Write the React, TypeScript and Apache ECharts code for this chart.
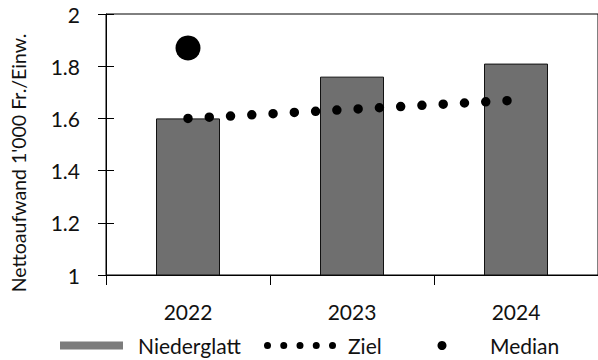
import { useEffect, useRef } from "react";
import * as echarts from "echarts";

// Net expenditure per inhabitant (thousand CHF)
const years = ["2022", "2023", "2024"];
const niederglatt = [1.6, 1.76, 1.81];
const ziel = [1.6, 1.635, 1.67];
const median: (number | null)[] = [1.87, null, null];

const yMin = 1;
const yMax = 2;
const yStep = 0.2;

const FONT = "Lato";
const INK = "#111111";
const BAR_GRAY = "#6f6f6f";

// five dots for the "Ziel" legend icon (bbox 72 x 7)
const zielIcon =
  "path://" +
  [0, 1, 2, 3, 4]
    .map((k) => {
      const x = 16.25 * k;
      return `M${x} 3.5a3.5 3.5 0 1 0 7 0a3.5 3.5 0 1 0 -7 0Z`;
    })
    .join("");

export default function App() {
  const ref = useRef<HTMLDivElement>(null);

  useEffect(() => {
    if (!ref.current) return;
    const chart = echarts.init(ref.current, undefined, { renderer: "svg" });

    const legendText = (gap: number) => ({
      fontFamily: FONT,
      fontSize: 21,
      color: INK,
      // legend puts 5px between icon and label; pad the rest
      padding: [0, 0, 0, gap - 5],
    });

    chart.setOption({
      animation: false,
      textStyle: { fontFamily: FONT, color: INK },
      grid: {
        left: 106,
        right: -6,
        top: 14,
        bottom: 85,
        show: true,
        borderColor: "#000",
        borderWidth: 1,
      },
      xAxis: {
        type: "category",
        data: years,
        boundaryGap: true,
        axisLine: { show: true, lineStyle: { color: "#000", width: 1 } },
        axisTick: { show: true, length: 10, alignWithLabel: false, lineStyle: { color: "#000" } },
        axisLabel: { margin: 26, fontSize: 21, fontFamily: FONT, color: INK },
        splitLine: { show: false },
      },
      yAxis: [
        {
          type: "value",
          min: yMin,
          max: yMax,
          interval: yStep,
          axisLine: { show: true, lineStyle: { color: "#000", width: 1 } },
          axisTick: { show: true, length: 8, lineStyle: { color: "#000" } },
          axisLabel: {
            margin: 26,
            fontSize: 21,
            fontFamily: FONT,
            color: INK,
            formatter: (v: number) => String(Math.round(v * 10) / 10),
          },
          splitLine: { show: false },
        },
        {
          type: "value",
          position: "left",
          min: yMin,
          max: yMax,
          interval: yStep,
          axisLine: { show: false },
          axisTick: { show: true, inside: true, length: 8, lineStyle: { color: "#000" } },
          axisLabel: { show: false },
          splitLine: { show: false },
        },
      ],
      legend: [
        {
          data: [{ name: "Niederglatt", icon: "rect", itemStyle: { color: "#7c7c7c", borderWidth: 0 } }],
          left: 60,
          top: 335,
          padding: 0,
          itemWidth: 63,
          itemHeight: 8,
          itemGap: 0,
          textStyle: legendText(15),
          selectedMode: false,
        },
        {
          data: [{ name: "Ziel", icon: zielIcon, itemStyle: { color: "#000", borderWidth: 0 } }],
          left: 264,
          top: 335,
          padding: 0,
          itemWidth: 72,
          itemHeight: 7,
          itemGap: 0,
          textStyle: legendText(12),
          selectedMode: false,
        },
        {
          // the circle sits centred in its 78px slot; the box starts at the dot's edge
          data: [{ name: "Median", icon: "circle", itemStyle: { color: "#000", borderWidth: 0, opacity: 1 } }],
          left: 437.5,
          top: 335,
          padding: 0,
          itemWidth: 78,
          itemHeight: 9,
          itemGap: 0,
          textStyle: legendText(9),
          selectedMode: false,
        },
      ],
      graphic: [
        {
          type: "text",
          x: 18,
          y: 163,
          rotation: Math.PI / 2,
          style: {
            text: "Nettoaufwand 1'000 Fr./Einw.",
            fontFamily: FONT,
            fontSize: 19.5,
            fill: INK,
            align: "center",
            verticalAlign: "middle",
          },
        },
      ],
      series: [
        {
          name: "Niederglatt",
          type: "bar",
          data: niederglatt,
          barWidth: 64,
          itemStyle: { color: BAR_GRAY, borderColor: "#111", borderWidth: 1 },
          z: 2,
        },
        {
          name: "Ziel",
          type: "line",
          data: ziel,
          symbol: "none",
          color: "#000",
          lineStyle: { color: "#000", width: 9.5, type: [0, 21.3], cap: "round" },
          z: 3,
        },
        {
          name: "Median",
          type: "scatter",
          data: median,
          symbol: "circle",
          symbolSize: 25,
          itemStyle: { color: "#000", opacity: 1 },
          z: 4,
        },
      ],
    });

    return () => chart.dispose();
  }, []);

  return (
    <div
      ref={ref}
      style={{ position: "fixed", left: 0, top: 0, width: 598, height: 360, background: "#fff" }}
    />
  );
}
